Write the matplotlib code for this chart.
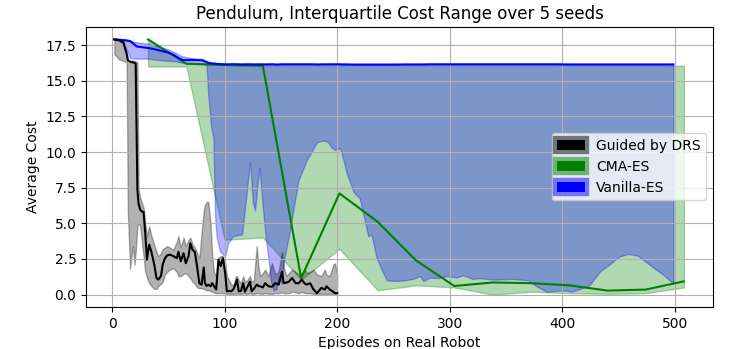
import matplotlib
matplotlib.use("Agg")
import matplotlib.pyplot as plt
from matplotlib.patches import Patch

# Guided by DRS: Median + Interquartilbereich
drs_x = [2, 6, 10, 13, 14, 16, 17, 18.5, 20, 21, 22.5, 23.5, 25, 27, 28, 29.5, 31, 33, 35, 37.5,
         39.5, 41, 43.5, 45, 47, 49, 51.5, 54.5, 57.5, 59, 61, 63.5, 65.5, 68, 69.5, 71.5, 73.5, 75.5,
         77.5, 79.5, 81.5, 82.5, 84, 85.5, 87.5, 89, 90.5, 92.5, 94.5, 96.5, 98.5, 100.5, 102, 104,
         106, 108, 110, 111, 112.5, 114.5, 116.5, 118, 120, 122.5, 124, 126, 128.5, 130, 131.5, 134,
         136, 139, 142, 145, 148, 151, 152.5, 155, 157, 160, 163, 166, 168.5, 171.5, 173, 176, 179,
         182, 186, 189, 190.5, 193.5, 196.5, 198, 200]
drs_med = [17.9, 17.85, 17.7, 16.9, 16.45, 16.35, 16.3, 16.3, 16.25, 16.2, 7.4, 6.4, 5.95, 5.8, 5.8,
           4.3, 2.45, 3.5, 3.0, 2.1, 1.15, 1.05, 1.3, 2.1, 2.55, 2.75, 2.8, 2.7, 2.55, 3.0, 2.33, 2.9,
           2.2, 2.7, 3.6, 3.15, 3.0, 2.0, 0.8, 0.7, 1.9, 0.8, 0.6, 0.7, 0.58, 0.8, 0.6, 0.35, 2.45, 2.0,
           2.55, 1.5, 0.23, 0.25, 0.23, 0.4, 0.8, 1.05, 0.23, 0.25, 0.8, 0.2, 0.5, 0.9, 0.23, 0.4, 0.7,
           0.6, 0.58, 0.5, 0.8, 0.58, 0.55, 0.8, 0.7, 1.6, 0.8, 0.85, 0.9, 1.17, 0.8, 0.8, 1.05, 0.75,
           0.7, 0.8, 0.35, 0.1, 0.47, 0.35, 0.58, 0.35, 0.2, 0.1, 0.1]
drs_up = [17.9, 17.9, 17.85, 16.95, 16.45, 16.4, 16.4, 16.4, 16.4, 16.35, 16.3, 7.4, 6.8, 6.3, 6.1,
          5.0, 4.1, 4.8, 4.1, 3.5, 3.0, 2.7, 2.9, 3.2, 3.3, 3.4, 3.3, 3.15, 3.7, 4.1, 3.3, 4.0, 3.4,
          3.85, 4.0, 3.5, 3.3, 2.95, 2.5, 4.3, 5.9, 6.3, 6.5, 6.5, 5.0, 2.7, 1.6, 1.3, 2.6, 2.7, 2.7,
          2.2, 1.3, 1.0, 0.7, 0.7, 1.3, 1.3, 1.0, 0.8, 1.3, 0.9, 1.0, 1.3, 0.9, 1.0, 3.4, 2.0, 1.3,
          1.5, 1.75, 1.3, 2.2, 1.4, 1.6, 3.0, 1.9, 1.3, 1.5, 1.75, 1.6, 1.4, 1.5, 1.75, 1.5, 1.6, 1.75,
          1.4, 1.3, 1.75, 1.4, 1.3, 2.1, 2.2, 1.4]
drs_lo = [16.9, 16.5, 16.4, 16.3, 6.0, 1.8, 2.5, 3.4, 2.1, 3.0, 4.8, 5.0, 4.8, 3.3, 2.7, 1.6, 1.2,
          0.8, 0.6, 0.4, 0.4, 0.6, 0.75, 0.9, 1.4, 1.6, 1.75, 1.85, 1.6, 1.3, 1.3, 1.45, 1.5, 1.3,
          1.15, 0.9, 0.75, 0.5, 0.45, 0.45, 0.4, 0.35, 0.3, 0.3, 0.25, 0.2, 0.15, 0.1, 0.1, 0.1, 0.1,
          0.08, 0.05, 0.05, 0.05, 0.05, 0.05, 0.1, 0.05, 0.05, 0.1, 0.05, 0.05, 0.1, 0.05, 0.05, 0.1,
          0.1, 0.05, 0.05, 0.1, 0.05, 0.05, 0.1, 0.1, 0.15, 0.1, 0.1, 0.1, 0.2, 0.15, 0.1, 0.2, 0.1,
          0.1, 0.1, 0.05, 0.05, 0.05, 0.05, 0.05, 0.05, 0.05, 0.05, 0.05]

# CMA-ES
cma_x = [32, 66, 100, 134, 168, 202, 236, 270, 304, 338, 372, 406, 440, 474, 508]
cma_med = [17.9, 16.2, 16.1, 16.05, 1.15, 7.1, 5.1, 2.4, 0.6, 0.85, 0.8, 0.65, 0.28, 0.35, 0.93]
cma_up = [17.9, 16.2, 16.12, 16.1, 16.1, 16.1, 16.1, 16.1, 16.1, 16.1, 16.1, 16.1, 16.1, 16.1, 16.05]
cma_lo = [16.0, 16.0, 3.85, 4.0, 1.05, 3.2, 0.3, 0.65, 0.5, 0.0, 0.2, 0.1, 0.05, 0.1, 0.5]

# Vanilla-ES
van_x = [2, 6, 10, 13, 16, 19, 22, 27, 32, 37, 41, 46, 50, 54, 57, 60, 63, 70, 76, 80,
         84, 85.5, 88, 90, 91.5, 93, 96, 100.5, 103, 107.5, 113.5, 115.5, 118, 122.5, 125, 127, 129, 131,
         133.5, 136.5, 139, 141, 143.5, 146, 148, 150.5, 153, 158, 165.5, 173, 179, 182, 188, 192,
         195, 198, 202.5, 205.5, 208.5, 214.5, 220, 223, 227.5, 230.5, 235, 239.5, 244, 253, 260,
         267.5, 273.5, 276.5, 282.5, 290, 297, 306, 312, 320, 327, 340, 355, 370, 377, 386, 396,
         404, 408, 416, 424.5, 433.5, 439.5, 451, 458.5, 467, 474, 481, 489.5, 498.5]
van_med = [17.9, 17.88, 17.85, 17.82, 17.78, 17.6, 17.4, 17.35, 17.3, 17.22, 17.15, 17.05, 16.97,
           16.85, 16.7, 16.55, 16.45, 16.45, 16.45, 16.43,
           16.3, 16.25, 16.22, 16.2, 16.2, 16.18, 16.17, 16.15, 16.15, 16.16, 16.15, 16.14, 16.15,
           16.15, 16.15, 16.14, 16.15, 16.15,
           16.15, 16.14, 16.15, 16.15, 16.15, 16.13, 16.14, 16.15, 16.15, 16.15, 16.15, 16.15,
           16.15, 16.14, 16.15, 16.15,
           16.15, 16.15, 16.15, 16.14, 16.14, 16.13, 16.13, 16.13, 16.13, 16.13, 16.13, 16.13,
           16.13, 16.13, 16.14,
           16.14, 16.14, 16.14, 16.15, 16.15, 16.15, 16.15, 16.15, 16.15, 16.15, 16.15, 16.15,
           16.15, 16.15, 16.15, 16.15,
           16.14, 16.14, 16.14, 16.14, 16.14, 16.14, 16.14, 16.14, 16.14, 16.14, 16.14, 16.14,
           16.14]
van_up = [17.95, 17.95, 17.92, 17.9, 17.85, 17.75, 17.7, 17.65, 17.6, 17.5, 17.4, 17.3, 17.2,
          17.05, 16.95, 16.8, 16.7, 16.6, 16.55, 16.55,
          16.4, 16.35, 16.3, 16.28, 16.25, 16.23, 16.22, 16.2, 16.2, 16.2, 16.2, 16.2, 16.2,
          16.2, 16.2, 16.2, 16.2, 16.2,
          16.2, 16.2, 16.2, 16.2, 16.2, 16.2, 16.2, 16.2, 16.2, 16.2, 16.2, 16.2,
          16.2, 16.2, 16.2, 16.2,
          16.2, 16.2, 16.2, 16.2, 16.2, 16.2, 16.2, 16.2, 16.2, 16.2, 16.2, 16.2,
          16.2, 16.2, 16.2,
          16.2, 16.2, 16.2, 16.2, 16.2, 16.2, 16.2, 16.2, 16.2, 16.2, 16.2, 16.2,
          16.2, 16.2, 16.2, 16.2,
          16.2, 16.2, 16.2, 16.2, 16.2, 16.2, 16.2, 16.2, 16.2, 16.2, 16.2, 16.2,
          16.2]
van_lo = [17.9, 17.8, 17.6, 17.2, 16.6, 16.55, 16.55, 16.55, 16.55, 16.5, 16.45, 16.42, 16.4,
          16.38, 16.35, 16.3, 16.25, 16.2, 16.2, 16.2,
          16.1, 14.0, 11.8, 11.0, 5.5, 4.0, 3.0, 2.7, 3.6, 4.1, 4.2, 4.2, 6.0, 9.3, 6.5, 5.9, 7.5,
          8.9,
          6.5, 4.0, 2.5, 1.0, 0.3, 0.4, 1.3, 0.8, 2.5, 4.5, 8.0, 9.45, 10.27, 10.7, 10.8, 10.7,
          10.3, 10.15, 10.27, 9.45, 8.5, 7.2, 6.76, 5.7, 4.1, 4.2, 2.57, 1.75, 1.0, 0.95, 1.0,
          1.1, 1.3, 0.95, 1.2, 1.15, 1.3, 1.2, 1.36, 1.1, 1.15, 1.05, 1.1, 1.0, 0.58, 0.2, 0.28,
          0.28, 0.2, 0.4, 0.7, 1.63, 1.98, 2.68, 2.85, 2.73, 2.3, 1.87, 1.4, 0.77]

fig = plt.figure(figsize=(7.3, 3.49), dpi=100)
ax = fig.add_axes([0.118, 0.12, 0.859, 0.803])

# Flächen (Interquartilbereich)
ax.fill_between(cma_x, cma_lo, cma_up, color='green', alpha=0.3)
ax.fill_between(van_x, van_lo, van_up, color='blue', alpha=0.3)
ax.fill_between(drs_x, drs_lo, drs_up, color='black', alpha=0.3)

# Medianlinien
ax.plot(cma_x, cma_med, color='green', lw=1.5)
ax.plot(van_x, van_med, color='blue', lw=1.5)
ax.plot(drs_x, drs_med, color='black', lw=1.5)

ax.set_xlim(-23, 534)
ax.set_ylim(-0.88, 18.78)
ax.set_xticks([0, 100, 200, 300, 400, 500])
ax.set_yticks([0, 2.5, 5, 7.5, 10, 12.5, 15, 17.5])
ax.set_yticklabels(['0.0', '2.5', '5.0', '7.5', '10.0', '12.5', '15.0', '17.5'])
ax.grid(True)
ax.set_title('Pendulum, Interquartile Cost Range over 5 seeds')
ax.set_xlabel('Episodes on Real Robot')
ax.set_ylabel('Average Cost')

# Legende: volle Farbe innen, halbtransparenter Rand aussen
handles = [
    Patch(facecolor='black', edgecolor=(0, 0, 0, 0.5), lw=6),
    Patch(facecolor='green', edgecolor=(0, 0.5, 0, 0.5), lw=6),
    Patch(facecolor='blue', edgecolor=(0, 0, 1, 0.5), lw=6),
]
ax.legend(handles, ['Guided by DRS', 'CMA-ES', 'Vanilla-ES'], loc='center right')

fig.savefig('out.png', dpi=100)
